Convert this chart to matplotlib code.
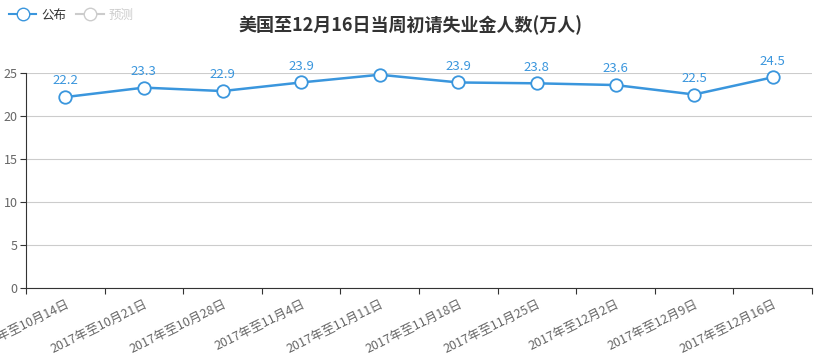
import matplotlib
matplotlib.use('Agg')
import matplotlib.pyplot as plt
from matplotlib.lines import Line2D

plt.rcParams['font.family'] = ['Noto Sans CJK SC', 'DejaVu Sans']

categories = ['2017年至10月14日', '2017年至10月21日', '2017年至10月28日',
              '2017年至11月4日', '2017年至11月11日', '2017年至11月18日',
              '2017年至11月25日', '2017年至12月2日', '2017年至12月9日',
              '2017年至12月16日']
published = [22.2, 23.3, 22.9, 23.9, 24.8, 23.9, 23.8, 23.6, 22.5, 24.5]
# the 5th label is hidden in the reference
point_labels = ['22.2', '23.3', '22.9', '23.9', None, '23.9', '23.8', '23.6', '22.5', '24.5']
yticks = [0, 5, 10, 15, 20, 25]

blue = '#3a96dd'

fig = plt.figure(figsize=(8.21, 3.63), dpi=100)
ax = fig.add_axes([26 / 821, 75 / 363, 786 / 821, 215 / 363])

x = list(range(len(categories)))
ax.plot(x, published, color=blue, lw=1.8, marker='o', ms=9,
        mfc='white', mec=blue, mew=1.3, clip_on=False, zorder=3)
for xi, yi, lab in zip(x, published, point_labels):
    if lab:
        ax.annotate(lab, (xi, yi), xytext=(0, 7), textcoords='offset points',
                    ha='center', va='bottom', color=blue, fontsize=9.5)

ax.set_xlim(-0.5, len(categories) - 0.5)
ax.set_ylim(0, 25)
ax.set_yticks(yticks)
ax.set_xticks([i - 0.5 for i in range(len(categories) + 1)])
ax.set_xticklabels([])
ax.set_xticks(x, minor=True)
ax.set_xticklabels(categories, minor=True, rotation=26, ha='right',
                   rotation_mode='anchor', fontsize=9, color='#666666')
ax.tick_params(axis='x', which='minor', length=0, pad=7)
ax.tick_params(axis='x', which='major', length=4, color='#333333')
ax.tick_params(axis='y', length=4, color='#333333', labelcolor='#666666',
               labelsize=9, pad=2)

ax.grid(axis='y', color='#cccccc', lw=0.8)
ax.set_axisbelow(True)
for s in ['top', 'right']:
    ax.spines[s].set_visible(False)
ax.spines['left'].set_color('#333333')
ax.spines['bottom'].set_color('#333333')

fig.text(0.5, 1 - 25 / 363, '美国至12月16日当周初请失业金人数(万人)',
         ha='center', va='center', fontsize=13, fontweight='bold', color='#333333')

handles = [Line2D([0], [0], color=blue, marker='o', ms=9, mfc='white', mec=blue, lw=1.5),
           Line2D([0], [0], color='#cccccc', marker='o', ms=9, mfc='white', mec='#cccccc', lw=1.5)]
leg = fig.legend(handles, ['公布', '预测'], loc='upper left', bbox_to_anchor=(0.0, 1.0),
                 ncol=2, frameon=False, fontsize=9, handlelength=2.2,
                 columnspacing=0.8, handletextpad=0.4, borderaxespad=0.3)
leg.get_texts()[0].set_color('#333333')
leg.get_texts()[1].set_color('#cccccc')

fig.savefig('out.png', dpi=100)
